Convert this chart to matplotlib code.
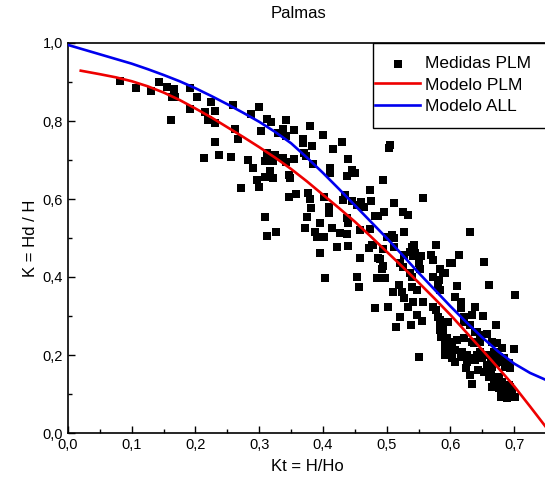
import matplotlib
matplotlib.use("Agg")
import matplotlib.pyplot as plt
from matplotlib.ticker import MultipleLocator, FuncFormatter
from matplotlib.patches import Rectangle

plt.rcParams['font.family'] = ['Liberation Sans', 'DejaVu Sans']

# Measured points (Kt, K)
kt = [0.081, 0.107, 0.130, 0.143, 0.155, 0.166, 0.163, 0.168, 0.161, 0.191, 0.192, 0.203,
      0.225, 0.215, 0.230, 0.220, 0.231, 0.231, 0.214, 0.237, 0.256, 0.259, 0.262, 0.266,
      0.299, 0.287, 0.313, 0.319, 0.342, 0.303, 0.329, 0.337, 0.342, 0.355, 0.380, 0.369,
      0.369, 0.383, 0.400, 0.430, 0.416, 0.283, 0.312, 0.325, 0.309, 0.321, 0.337, 0.342,
      0.355, 0.370, 0.374, 0.385, 0.291, 0.317, 0.296, 0.300, 0.309, 0.322, 0.347, 0.349,
      0.271, 0.411, 0.411, 0.439, 0.437, 0.446, 0.451, 0.474, 0.475, 0.347, 0.357, 0.376,
      0.379, 0.381, 0.402, 0.410, 0.409, 0.432, 0.446, 0.453, 0.464, 0.481, 0.309, 0.375,
      0.437, 0.440, 0.396, 0.372, 0.414, 0.427, 0.437, 0.327, 0.312, 0.388, 0.391, 0.402,
      0.458, 0.477, 0.422, 0.439,
      0.396, 0.404, 0.454, 0.456, 0.458,
      0.508, 0.527, 0.512, 0.578, 0.472, 0.479, 0.495, 0.540, 0.536, 0.545, 0.542, 0.554,
      0.569, 0.573, 0.489, 0.495, 0.493, 0.521, 0.526, 0.550, 0.552, 0.584, 0.588, 0.600,
      0.485, 0.498, 0.519, 0.510, 0.524, 0.527, 0.540, 0.548, 0.541, 0.557, 0.540, 0.536,
      0.573, 0.582, 0.580, 0.584, 0.482, 0.502, 0.533, 0.521, 0.538, 0.514, 0.548, 0.555,
      0.573, 0.578, 0.580, 0.584, 0.583, 0.585, 0.592, 0.595,
      0.506, 0.503, 0.494, 0.435, 0.459, 0.512, 0.557, 0.526, 0.534, 0.487, 0.496, 0.474,
      0.501, 0.511, 0.543, 0.487, 0.527, 0.603, 0.613,
      0.630, 0.653, 0.592, 0.660, 0.611, 0.702, 0.608, 0.616, 0.616, 0.639,
      0.621, 0.634, 0.651, 0.671,
      0.621, 0.630, 0.584, 0.589, 0.642, 0.658, 0.595, 0.603, 0.610, 0.621, 0.634, 0.647,
      0.665, 0.673, 0.592, 0.600, 0.608, 0.618, 0.592, 0.603, 0.608, 0.550, 0.626, 0.631,
      0.626, 0.639, 0.647, 0.658, 0.668, 0.676, 0.663, 0.671, 0.684, 0.700, 0.692, 0.624,
      0.631, 0.644, 0.652, 0.660, 0.668, 0.676, 0.681, 0.634, 0.679, 0.686, 0.697, 0.702,
      0.692,
      0.597, 0.597, 0.603, 0.616, 0.639, 0.647, 0.681, 0.637, 0.642, 0.650, 0.658, 0.665,
      0.679, 0.686, 0.694, 0.663, 0.681, 0.665, 0.676, 0.686, 0.694, 0.679, 0.689, 0.694]
k = [0.903, 0.884, 0.877, 0.899, 0.888, 0.882, 0.862, 0.861, 0.802, 0.884, 0.831, 0.862,
     0.849, 0.823, 0.825, 0.803, 0.794, 0.746, 0.704, 0.713, 0.708, 0.840, 0.779, 0.753,
     0.837, 0.817, 0.804, 0.797, 0.803, 0.774, 0.768, 0.779, 0.762, 0.777, 0.787, 0.753,
     0.744, 0.736, 0.764, 0.747, 0.727, 0.700, 0.717, 0.713, 0.698, 0.698, 0.704, 0.696,
     0.702, 0.719, 0.709, 0.690, 0.679, 0.673, 0.649, 0.632, 0.656, 0.653, 0.662, 0.653,
     0.627, 0.679, 0.666, 0.703, 0.659, 0.674, 0.667, 0.623, 0.595, 0.604, 0.613, 0.615,
     0.599, 0.576, 0.606, 0.580, 0.565, 0.597, 0.596, 0.585, 0.580, 0.556, 0.555, 0.553,
     0.550, 0.539, 0.538, 0.525, 0.525, 0.514, 0.510, 0.516, 0.505, 0.516, 0.503, 0.503,
     0.521, 0.482, 0.478, 0.479,
     0.462, 0.397, 0.399, 0.374, 0.450,
     0.508, 0.516, 0.499, 0.482, 0.474, 0.482, 0.471, 0.478, 0.465, 0.461, 0.454, 0.454,
     0.456, 0.444, 0.445, 0.428, 0.420, 0.435, 0.425, 0.435, 0.420, 0.420, 0.409, 0.437,
     0.397, 0.397, 0.379, 0.362, 0.362, 0.345, 0.375, 0.367, 0.337, 0.337, 0.401, 0.409,
     0.401, 0.392, 0.379, 0.367, 0.320, 0.322, 0.324, 0.298, 0.277, 0.273, 0.303, 0.288,
     0.324, 0.315, 0.298, 0.290, 0.264, 0.247, 0.238, 0.226,
     0.738, 0.732, 0.649, 0.610, 0.593, 0.589, 0.602, 0.567, 0.559, 0.556, 0.567, 0.522,
     0.503, 0.478, 0.482, 0.448, 0.456, 0.437, 0.456,
     0.516, 0.439, 0.411, 0.379, 0.377, 0.354, 0.350, 0.337, 0.320, 0.322,
     0.298, 0.303, 0.300, 0.277,
     0.285, 0.276, 0.272, 0.264, 0.260, 0.255, 0.243, 0.234, 0.238, 0.243, 0.234, 0.234,
     0.234, 0.230, 0.217, 0.208, 0.213, 0.208, 0.200, 0.192, 0.183, 0.196, 0.200, 0.192,
     0.183, 0.187, 0.208, 0.200, 0.208, 0.196, 0.187, 0.179, 0.192, 0.215, 0.179, 0.166,
     0.149, 0.162, 0.157, 0.144, 0.136, 0.144, 0.127, 0.126, 0.110, 0.097, 0.106, 0.093,
     0.123,
     0.285, 0.234, 0.226, 0.196, 0.260, 0.251, 0.217, 0.230, 0.200, 0.192, 0.174, 0.170,
     0.183, 0.170, 0.166, 0.149, 0.132, 0.119, 0.115, 0.110, 0.119, 0.093, 0.089, 0.097]

# Model curves
plm_x = [0.020, 0.050, 0.075, 0.100, 0.125, 0.150, 0.175, 0.200, 0.225, 0.250, 0.275,
         0.300, 0.325, 0.350, 0.375, 0.400, 0.425, 0.450, 0.475, 0.500, 0.525, 0.550,
         0.575, 0.600, 0.625, 0.650, 0.675, 0.700, 0.725, 0.750]
plm_y = [0.929, 0.920, 0.912, 0.902, 0.889, 0.873, 0.854, 0.832, 0.809, 0.784, 0.759,
         0.733, 0.706, 0.677, 0.645, 0.611, 0.577, 0.542, 0.504, 0.465, 0.426, 0.386,
         0.345, 0.303, 0.258, 0.213, 0.167, 0.120, 0.068, 0.015]
all_x = [0.000, 0.025, 0.050, 0.075, 0.100, 0.125, 0.150, 0.175, 0.200, 0.225, 0.250,
         0.275, 0.300, 0.325, 0.350, 0.375, 0.400, 0.425, 0.450, 0.475, 0.500, 0.525,
         0.550, 0.575, 0.600, 0.625, 0.650, 0.675, 0.700, 0.725, 0.750]
all_y = [0.995, 0.983, 0.971, 0.959, 0.947, 0.933, 0.918, 0.902, 0.884, 0.864, 0.843,
         0.821, 0.798, 0.772, 0.743, 0.706, 0.667, 0.626, 0.584, 0.542, 0.500, 0.456,
         0.411, 0.368, 0.325, 0.284, 0.245, 0.209, 0.178, 0.154, 0.136]

fig = plt.figure(figsize=(5.45, 4.90), dpi=100)
ax = fig.add_axes([68/545, 57/490, 478/545, 390/490])

ax.scatter(kt, k, marker='s', s=34, color='black', linewidths=0, label='Medidas PLM', zorder=3)
ax.plot(plm_x, plm_y, color='#ee0000', lw=1.9, label='Modelo PLM', zorder=4)
ax.plot(all_x, all_y, color='#0000ee', lw=1.9, label='Modelo ALL', zorder=4)

ax.set_xlim(0, 0.75)
ax.set_ylim(0, 1.0)
ax.xaxis.set_major_locator(MultipleLocator(0.1))
ax.xaxis.set_minor_locator(MultipleLocator(0.05))
ax.yaxis.set_major_locator(MultipleLocator(0.2))
ax.yaxis.set_minor_locator(MultipleLocator(0.1))
fmt = FuncFormatter(lambda v, p: f"{v:.1f}".replace('.', ','))
ax.xaxis.set_major_formatter(fmt)
ax.yaxis.set_major_formatter(fmt)
ax.tick_params(which='both', direction='in', top=False, right=False, labelsize=10.5, width=1.0)
ax.tick_params(which='major', length=5)
ax.tick_params(which='minor', length=3)
ax.spines['right'].set_visible(False)
for s in ['left', 'bottom', 'top']:
    ax.spines[s].set_linewidth(1.2)

ax.set_xlabel('Kt = H/Ho', fontsize=12, labelpad=5)
ax.set_ylabel('K = Hd / H', fontsize=12, labelpad=3)
fig.text(298/545, 1 - 14/490, 'Palmas', ha='center', va='center', fontsize=12)

# legend frame (extends past the right edge as in the reference)
x0 = (373 - 68) / 478
y0 = (433 - 128) / 390
frame = Rectangle((x0, y0), 1.2 - x0, 1.0 - y0, transform=ax.transAxes,
                  facecolor='white', edgecolor='black', lw=1.0, zorder=5, clip_on=False)
ax.add_patch(frame)

leg = ax.legend(loc='upper left', bbox_to_anchor=((375 - 68) / 478, (433 - 56) / 390),
                borderaxespad=0, borderpad=0, frameon=False,
                fontsize=12.5, handlelength=2.6, handletextpad=0.3, labelspacing=0.36,
                scatterpoints=1)
leg.set_zorder(6)

fig.savefig('out.png', dpi=100)
